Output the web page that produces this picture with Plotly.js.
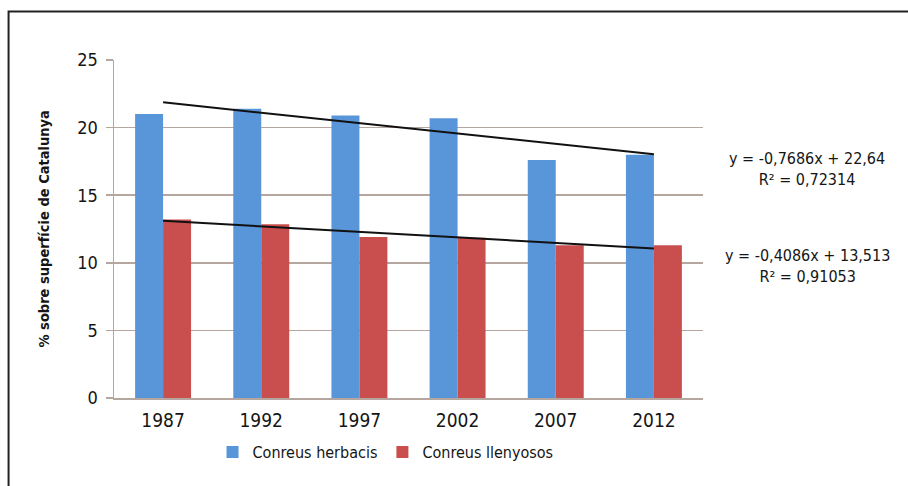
<!DOCTYPE html>
<html>
<head>
<meta charset="utf-8">
<script src="https://cdn.plot.ly/plotly-3.0.1.min.js"></script>
<style>
html,body{margin:0;padding:0;background:#fff;}
#chart{width:908px;height:486px;}
</style>
</head>
<body>
<div id="chart"></div>
<script>
const years = ['1987','1992','1997','2002','2007','2012'];
const herbacis = [21.0, 21.4, 20.9, 20.7, 17.6, 18.0];
const llenyosos = [13.2, 12.85, 11.9, 11.85, 11.3, 11.3];
const trendSlopes = [-0.7686, -0.4086];
const trendIntercepts = [22.64, 13.513];
const trendLabels = ['y = -0,7686x + 22,64<br>R² = 0,72314', 'y = -0,4086x + 13,513<br>R² = 0,91053'];
const seriesNames = ['Conreus herbacis', 'Conreus llenyosos'];

const FONT = '"Liberation Sans Narrow", "Arial Narrow", "DejaVu Sans Condensed", sans-serif';
const idx = years.map((_, i) => i + 1);
const ends = [1, years.length];

const traces = [
  {type:'bar', x: idx, y: herbacis, name: seriesNames[0], marker:{color:'#5896d9'}},
  {type:'bar', x: idx, y: llenyosos, name: seriesNames[1], marker:{color:'#c94f4e'}},
];
for (let k = 0; k < 2; k++) {
  traces.push({type:'scatter', mode:'lines', x: ends,
    y: ends.map(t => trendSlopes[k]*t + trendIntercepts[k]),
    line:{color:'#111', width:2}, showlegend:false, hoverinfo:'skip'});
}

const gridC = '#b5a79f';
const TXT = '#151515';
const layout = {
  width: 908, height: 486,
  margin: {l:114, r:205, t:60, b:88},
  paper_bgcolor:'#fff', plot_bgcolor:'#fff',
  font: {family: FONT, size: 17, color:TXT},
  barmode:'group', bargap:0.43, bargroupgap:0,
  showlegend:true,
  legend:{orientation:'h', x:0.461, xanchor:'center', y:-0.16, yanchor:'middle',
    font:{family:FONT, size:16, color:TXT}, itemwidth:30, tracegroupgap:0},
  xaxis:{range:[0.5,6.5], tickvals: idx, ticktext: years, showgrid:false,
    showline:true, linecolor:gridC, linewidth:1.5, ticks:'', zeroline:false,
    ticklabelstandoff:5,
    tickfont:{family:FONT, size:19, color:TXT}},
  yaxis:{range:[0,25], dtick:5, showgrid:true, gridcolor:gridC, gridwidth:1.5,
    showline:true, linecolor:gridC, linewidth:1.5, ticks:'outside', ticklen:7,
    tickcolor:gridC, tickwidth:1.5, zeroline:false, ticklabelstandoff:4,
    tickfont:{family:FONT, size:18, color:TXT}},
  annotations: [
    {xref:'paper', yref:'paper', x:-0.118, y:0.5, text:'<b>% sobre superfície de Catalunya</b>',
      textangle:-90, showarrow:false, xanchor:'center', yanchor:'middle',
      font:{family:FONT, size:14.5, color:TXT}},
    {xref:'paper', yref:'paper', x:1.1766, y:0.677, text: trendLabels[0], showarrow:false,
      xanchor:'center', yanchor:'middle', align:'center', font:{family:FONT, size:16, color:TXT}},
    {xref:'paper', yref:'paper', x:1.1766, y:0.39, text: trendLabels[1], showarrow:false,
      xanchor:'center', yanchor:'middle', align:'center', font:{family:FONT, size:16, color:TXT}}
  ],
  shapes: [
    {type:'rect', xref:'paper', yref:'paper', x0:-0.179, x1:1.36, y0:-0.3, y1:1.1435,
      line:{color:'#222', width:2}, layer:'below'}
  ]
};
Plotly.newPlot('chart', traces, layout, {displayModeBar:false, staticPlot:true});
</script>
</body>
</html>
